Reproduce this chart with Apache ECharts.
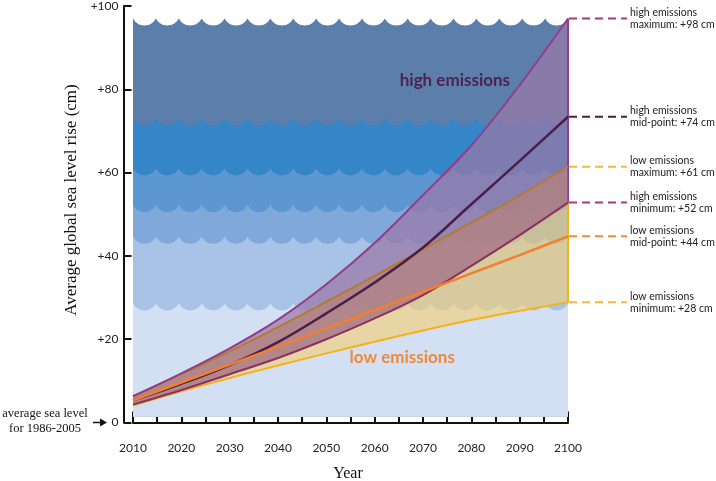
<!DOCTYPE html>
<html>
<head>
<meta charset="utf-8">
<script src="https://cdn.jsdelivr.net/npm/echarts@6/dist/echarts.min.js"></script>
<style>html,body{margin:0;padding:0;background:#fff}#c{width:716px;height:481px}</style>
</head>
<body>
<div id="c"></div>
<script>
// ---- data ----
const years   = [2010, 2020, 2030, 2040, 2050, 2060, 2070, 2080, 2090, 2100];
const highMax = [6.3, 11.8, 17.8, 24.7, 33.2, 43.1, 54.6, 66.5, 81.0, 97.0];
const highMid = [5.3, 9.3, 13.8, 19.3, 26.2, 33.6, 42.0, 52.4, 62.8, 73.4];
const highMin = [4.3, 7.8, 11.6, 15.5, 20.0, 25.0, 30.6, 37.6, 45.0, 52.8];
const lowMax  = [6.3, 11.6, 17.1, 22.9, 29.0, 35.2, 41.6, 48.0, 54.5, 61.4];
const lowMid  = [5.3, 9.6, 13.9, 18.2, 22.6, 27.0, 31.4, 35.8, 40.2, 44.7];
const lowMin  = [4.1, 7.5, 10.7, 13.7, 16.6, 19.4, 22.1, 24.6, 26.8, 28.9];
const bandEdges = [97.0, 73.0, 61.0, 52.2, 44.6, 28.6, 1.4];
const yTickLabels = {0: '0', 20: '+20', 40: '+40', 60: '+60', 80: '+80', 100: '+100'};
const endLabels = [
  ['high emissions', 'maximum: +98 cm'],
  ['high emissions', 'mid-point: +74 cm'],
  ['low emissions', 'maximum: +61 cm'],
  ['high emissions', 'minimum: +52 cm'],
  ['low emissions', 'mid-point: +44 cm'],
  ['low emissions', 'minimum: +28 cm']
];

// ---- styles ----
const bandColors = ['#5b7eab', '#3486c8', '#5d97d1', '#80a8d9', '#a9c3e6', '#d3e0f3'];
const C = {
  highMax: '#913c8c', highMid: '#4a1e46', highMin: '#8c3060',
  lowMax: '#b57a2e', lowMid: '#f47f2e', lowMin: '#f2b21b'
};
const sans = 'Lato';
const serif = 'Liberation Serif';
const SMOOTH = 0.35;

const pair = (a) => years.map((y, i) => [y, a[i]]);
// value first, year second (so that stacking applies to the value dimension)
const vPair = (a) => years.map((y, i) => [a[i], y]);
const vDiff = (a, b) => years.map((y, i) => [+(a[i] - b[i]).toFixed(3), y]);

function scallop(x0, x1, y, n, s) {
  const w = (x1 - x0) / n;
  const R = (w * w / 4 + s * s) / (2 * s);
  const pts = [];
  for (let k = 0; k < n; k++) {
    for (let j = (k === 0 ? 0 : 1); j <= 12; j++) {
      const t = j / 12;
      const dx = (t - 0.5) * w;
      pts.push([x0 + k * w + t * w, y + s - R + Math.sqrt(Math.max(0, R * R - dx * dx))]);
    }
  }
  return pts;
}

function renderBand(params, api) {
  const i = api.value(4);
  const x0 = api.coord([api.value(0), 0])[0];
  const x1 = api.coord([api.value(1), 0])[0];
  const yTop = api.coord([2010, api.value(2)])[1];
  const yBot = api.coord([2010, bandEdges[bandEdges.length - 1]])[1];
  const pts = scallop(x0, x1, yTop, 19, 7).concat([[x1, yBot], [x0, yBot]]);
  return { type: 'polygon', shape: { points: pts }, style: { fill: bandColors[i] } };
}

const edge = (lo, hi, color) => ({
  silent: true, symbol: 'none', label: { show: false },
  lineStyle: { type: 'solid', color, width: 2 },
  data: [[{ coord: [2100, lo[lo.length - 1]] }, { coord: [2100, hi[hi.length - 1]] }]]
});
const lineS = (name, data, color, width, markLine) => ({
  name, type: 'line', z: 6, data: pair(data), smooth: SMOOTH, symbol: 'none', silent: true,
  lineStyle: { color, width }, markLine
});
const baseS = (stack, data, z) => ({
  type: 'line', z, stack, data: vPair(data), encode: { x: 1, y: 0 },
  smooth: SMOOTH, symbol: 'none', silent: true, lineStyle: { opacity: 0, width: 0 }
});
const bandS = (stack, hi, lo, z, fill, op) => ({
  type: 'line', z, stack, data: vDiff(hi, lo), encode: { x: 1, y: 0 },
  smooth: SMOOTH, symbol: 'none', silent: true, lineStyle: { opacity: 0, width: 0 },
  areaStyle: { color: fill, opacity: op }
});

const chart = echarts.init(document.getElementById('c'), null, { renderer: 'canvas' });
chart.setOption({
  animation: false,
  backgroundColor: '#fff',
  grid: { left: 133, right: 148, top: 6, bottom: 58.5, containLabel: false },
  xAxis: {
    type: 'value', min: 2010, max: 2100, interval: 10, offset: 13,
    axisLine: { show: true, lineStyle: { color: '#111', width: 2 } },
    axisTick: { show: true, inside: true, length: 11, lineStyle: { color: '#111', width: 2 } },
    minorTick: { show: true, splitNumber: 2, length: 7, lineStyle: { color: '#111', width: 2 } },
    splitLine: { show: false }, minorSplitLine: { show: false },
    axisLabel: { margin: 7, color: '#222', fontFamily: sans, fontSize: 12, formatter: v => String(v) }
  },
  yAxis: {
    type: 'value', min: 0, max: 100, interval: 20, offset: 9.5,
    axisLine: { show: true, lineStyle: { color: '#111', width: 2 } },
    axisTick: { show: true, inside: true, length: 8, lineStyle: { color: '#111', width: 2 } },
    splitLine: { show: false },
    axisLabel: { margin: 5, color: '#222', fontFamily: sans, fontSize: 12, formatter: v => yTickLabels[v] || '' }
  },
  series: [
    {
      type: 'custom', z: 1, silent: true, renderItem: renderBand, clip: false,
      encode: { x: [0, 1], y: [2, 3] },
      data: bandColors.map((c, i) => [2010, 2100, bandEdges[i], bandEdges[i + 1], i])
    },
    // low emissions range
    baseS('low', lowMin, 3),
    bandS('low', lowMax, lowMin, 3, '#f5cf6e', 0.6),
    // high emissions range
    baseS('high', highMin, 4),
    bandS('high', highMax, highMin, 4, '#9a78a8', 0.72),
    // overlap of both ranges
    baseS('both', highMin, 5),
    bandS('both', lowMax, highMin, 5, '#b8725e', 0.36),
    lineS('lowMin', lowMin, C.lowMin, 2, edge(lowMin, lowMax, C.lowMin)),
    lineS('highMin', highMin, C.highMin, 2),
    lineS('lowMax', lowMax, C.lowMax, 2),
    lineS('highMax', highMax, C.highMax, 2, edge(highMin, highMax, C.highMax)),
    lineS('highMid', highMid, C.highMid, 2.5),
    lineS('lowMid', lowMid, C.lowMid, 2.5)
  ]
});

// ---- annotations ----
const ends = [highMax[9], highMid[9], lowMax[9], highMin[9], lowMid[9], lowMin[9]];
const leadColors = ['#a03a85', '#4a1e46', '#f6b93b', '#a03a85', '#f28a3a', '#f6b93b'];
const g = [];
ends.forEach((v, i) => {
  const p = chart.convertToPixel({ gridIndex: 0 }, [2100, v]);
  g.push({ type: 'line', z: 100, silent: true, shape: { x1: p[0] + 1, y1: p[1], x2: 627, y2: p[1] },
    style: { stroke: leadColors[i], lineWidth: 2, lineDash: [8, 5] } });
  g.push({ type: 'text', z: 100, silent: true, x: 630, y: p[1],
    style: { text: endLabels[i].join('\n'), fill: '#222', font: '10.5px ' + sans, lineHeight: 12,
      textAlign: 'left', textVerticalAlign: 'middle' } });
});
const hp = chart.convertToPixel({ gridIndex: 0 }, [2076.6, 82.2]);
g.push({ type: 'text', z: 100, silent: true, x: hp[0], y: hp[1],
  style: { text: 'high emissions', fill: '#4f2350', font: 'bold 17px ' + sans, textAlign: 'center', textVerticalAlign: 'middle' } });
const lp = chart.convertToPixel({ gridIndex: 0 }, [2065.7, 15.5]);
g.push({ type: 'text', z: 100, silent: true, x: lp[0], y: lp[1],
  style: { text: 'low emissions', fill: '#f0883a', font: 'bold 17px ' + sans, textAlign: 'center', textVerticalAlign: 'middle' } });
g.push({ type: 'text', z: 100, silent: true, x: 72, y: 200, rotation: Math.PI / 2,
  style: { text: 'Average global sea level rise (cm)', fill: '#111', font: '17px ' + serif, textAlign: 'center', textVerticalAlign: 'middle' } });
g.push({ type: 'text', z: 100, silent: true, x: 348, y: 474,
  style: { text: 'Year', fill: '#111', font: '16px ' + serif, textAlign: 'center', textVerticalAlign: 'middle' } });
const zp = chart.convertToPixel({ gridIndex: 0 }, [2010, 0]);
g.push({ type: 'text', z: 100, silent: true, x: 45, y: zp[1] - 1,
  style: { text: 'average sea level\nfor 1986-2005', fill: '#111', font: '12.5px ' + serif, lineHeight: 15,
    textAlign: 'center', textVerticalAlign: 'middle' } });
g.push({ type: 'line', z: 100, silent: true, shape: { x1: 93, y1: zp[1], x2: 101, y2: zp[1] }, style: { stroke: '#111', lineWidth: 1.5 } });
g.push({ type: 'polygon', z: 100, silent: true, shape: { points: [[107, zp[1]], [100, zp[1] - 4], [100, zp[1] + 4]] }, style: { fill: '#111' } });
chart.setOption({ graphic: g });
</script>
</body>
</html>
